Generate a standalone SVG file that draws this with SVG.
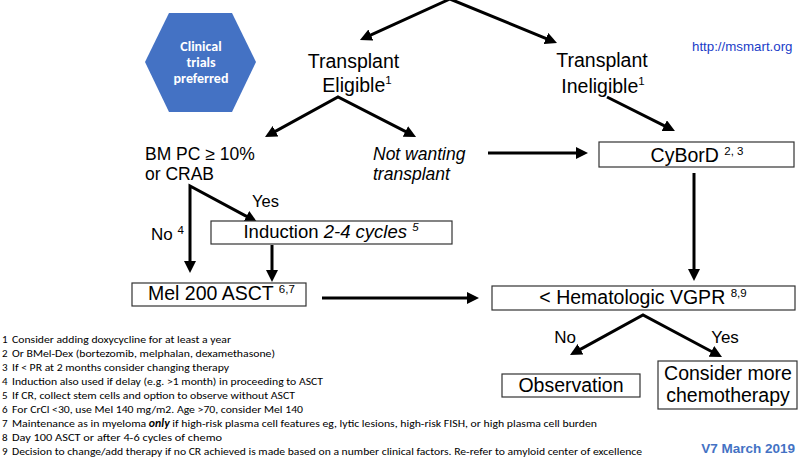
<svg xmlns="http://www.w3.org/2000/svg" width="800" height="459" viewBox="0 0 800 459">
<style>
text{font-family:"Liberation Sans",Arial,sans-serif;fill:#000}
.big{font-size:19.5px}
.mid{font-size:17.5px}
.lab{font-size:17px}
.sup{font-size:11.5px}
.box{fill:#fff;stroke:#333;stroke-width:1.2}
.con{fill:none;stroke:#000;stroke-width:3;stroke-linejoin:miter;stroke-miterlimit:10}
.fn{font-family:Carlito,"Liberation Sans",Arial,sans-serif;font-size:11px}
.hx{font-family:Carlito,"Liberation Sans",Arial,sans-serif;fill:#fff;font-weight:bold;font-size:14px}
</style>
<defs>
<marker id="ah" markerUnits="userSpaceOnUse" viewBox="0 0 12 12" markerWidth="12" markerHeight="12" refX="7" refY="6" orient="auto-start-reverse">
<path d="M0,0 L12,6 L0,12 z" fill="#000"/>
</marker>
</defs>

<g id="connectors">
<path class="con" d="M364.5,37.9 L450,-1 L552.4,41.1" marker-start="url(#ah)" marker-end="url(#ah)"/>
<path class="con" d="M269.4,134.6 L338,97 L411.6,134.7" marker-start="url(#ah)" marker-end="url(#ah)"/>
<path class="con" d="M607,97 L670.5,128.8" marker-end="url(#ah)"/>
<path class="con" d="M488,153 L583,153" marker-end="url(#ah)"/>
<path class="con" d="M694,173 L694,276" marker-end="url(#ah)"/>
<path class="con" d="M322,298 L474,298" marker-end="url(#ah)"/>
<path class="con" d="M252.6,219.6 L190,186 L190,268" marker-start="url(#ah)" marker-end="url(#ah)"/>
<path class="con" d="M272,245 L272,277" marker-end="url(#ah)"/>
<path class="con" d="M574.4,352.6 L643,315 L717.6,354.7" marker-start="url(#ah)" marker-end="url(#ah)"/>
<text class="lab" x="252" y="207" style="font-size:16.5px">Yes</text>
<text class="lab" x="151" y="240">No <tspan class="sup" dy="-6">4</tspan></text>
<text class="lab" x="565" y="343" text-anchor="middle">No</text>
<text class="lab" x="725" y="343" text-anchor="middle">Yes</text>
</g>

<g id="clinical-trials">
<polygon points="169,13 232,13 256,62 232,112 169,112 145,62" fill="#4472C4"/>
<text class="hx" x="201" y="51" text-anchor="middle">Clinical</text>
<text class="hx" x="201" y="67" text-anchor="middle">trials</text>
<text class="hx" x="201" y="83" text-anchor="middle">preferred</text>
</g>

<g id="url">
<text x="692" y="51" style="font-size:13.3px;fill:#1a3cc8">http://msmart.org</text>
</g>

<g id="transplant-eligible">
<text class="big" x="353.5" y="68" text-anchor="middle">Transplant</text>
<text class="big" x="357" y="92" text-anchor="middle">Eligible<tspan class="sup" dy="-8">1</tspan></text>
</g>

<g id="transplant-ineligible">
<text class="big" x="602" y="67" text-anchor="middle">Transplant</text>
<text class="big" x="603" y="93" text-anchor="middle">Ineligible<tspan class="sup" dy="-8">1</tspan></text>
</g>

<g id="bmpc">
<text class="mid" x="145" y="160">BM PC ≥ 10%</text>
<text class="mid" x="145" y="180">or CRAB</text>
</g>

<g id="not-wanting">
<text class="mid" x="373" y="160" font-style="italic">Not wanting</text>
<text class="mid" x="373" y="180" font-style="italic">transplant</text>
</g>

<g id="cybord">
<rect class="box" x="599" y="142" width="195" height="25"/>
<text class="big" x="697" y="162" text-anchor="middle">CyBorD <tspan class="sup" dy="-7">2, 3</tspan></text>
</g>

<g id="induction">
<rect class="box" x="211" y="221" width="241" height="23"/>
<text x="331" y="238" text-anchor="middle" style="font-size:18.5px">Induction <tspan font-style="italic">2-4 cycles </tspan><tspan class="sup" dy="-7" font-style="italic">5</tspan></text>
</g>

<g id="mel200">
<rect class="box" x="132" y="283" width="174" height="23"/>
<text class="big" x="148" y="300">Mel 200 ASCT <tspan class="sup" dy="-7">6,7</tspan></text>
</g>

<g id="vgpr">
<rect class="box" x="492" y="286" width="303" height="24"/>
<text class="big" x="643" y="304" text-anchor="middle">&lt; Hematologic VGPR <tspan class="sup" dy="-7">8,9</tspan></text>
</g>

<g id="observation">
<rect class="box" x="502" y="374" width="138" height="23"/>
<text class="big" x="571" y="392" text-anchor="middle">Observation</text>
</g>

<g id="consider-more">
<rect class="box" x="658" y="361" width="139" height="48"/>
<text class="big" x="728" y="380" text-anchor="middle">Consider more</text>
<text class="big" x="728" y="402" text-anchor="middle">chemotherapy</text>
</g>

<g id="footnotes">
<text class="fn" x="2" y="343">1</text>
<text class="fn" x="12" y="343" textLength="219" lengthAdjust="spacingAndGlyphs">Consider adding doxycycline for at least a year</text>
<text class="fn" x="2" y="357">2</text>
<text class="fn" x="12" y="357" textLength="263" lengthAdjust="spacingAndGlyphs">Or BMel-Dex (bortezomib, melphalan, dexamethasone)</text>
<text class="fn" x="2" y="371">3</text>
<text class="fn" x="12" y="371" textLength="217" lengthAdjust="spacingAndGlyphs">If &lt; PR at 2 months consider changing therapy</text>
<text class="fn" x="2" y="385">4</text>
<text class="fn" x="12" y="385" textLength="311" lengthAdjust="spacingAndGlyphs">Induction also used if delay (e.g. &gt;1 month) in proceeding to ASCT</text>
<text class="fn" x="2" y="399">5</text>
<text class="fn" x="12" y="399" textLength="283" lengthAdjust="spacingAndGlyphs">If CR, collect stem cells and option to observe without ASCT</text>
<text class="fn" x="2" y="413">6</text>
<text class="fn" x="12" y="413" textLength="291" lengthAdjust="spacingAndGlyphs">For CrCl &lt;30, use Mel 140 mg/m2. Age &gt;70, consider Mel 140</text>
<text class="fn" x="2" y="427">7</text>
<text class="fn" x="12" y="427" textLength="585" lengthAdjust="spacingAndGlyphs">Maintenance as in myeloma <tspan font-weight="bold" font-style="italic">only</tspan> if high-risk plasma cell features eg, lytic lesions, high-risk FISH, or high plasma cell burden</text>
<text class="fn" x="2" y="441">8</text>
<text class="fn" x="12" y="441" textLength="210" lengthAdjust="spacingAndGlyphs">Day 100 ASCT or after 4-6 cycles of chemo</text>
<text class="fn" x="2" y="455">9</text>
<text class="fn" x="12" y="455" textLength="630" lengthAdjust="spacingAndGlyphs">Decision to change/add  therapy if no CR achieved is made based on a number clinical factors. Re-refer to amyloid center of excellence</text>
</g>

<g id="version">
<text x="795" y="453" text-anchor="end" style="font-size:13.5px;font-weight:bold;fill:#4472C4">V7 March 2019</text>
</g>
</svg>
